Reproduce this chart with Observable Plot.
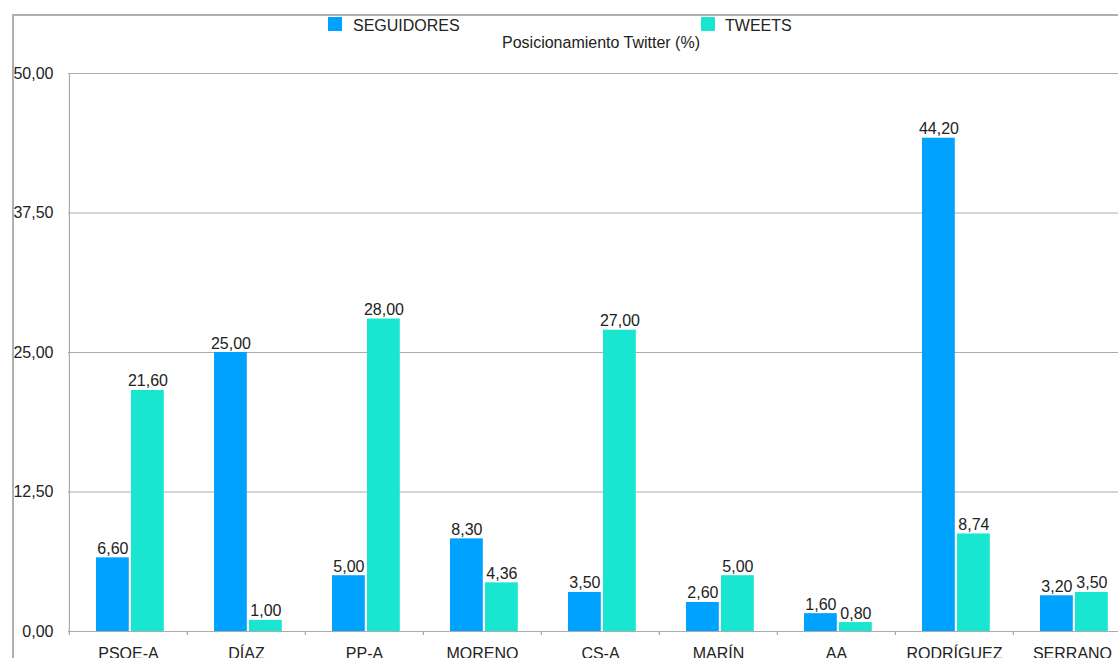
<!DOCTYPE html>
<html>
<head>
<meta charset="utf-8">
<script src="https://cdn.jsdelivr.net/npm/d3@7"></script>
<script src="https://cdn.jsdelivr.net/npm/@observablehq/plot@0.6"></script>
<style>
  html, body { margin: 0; padding: 0; background: #fff; overflow: hidden; }
  body { width: 1118px; height: 658px; font-family: "Liberation Sans", Arial, Helvetica, sans-serif; color: #222; }
  #frame { margin-left: 12px; margin-top: 14px; border-top: 2px solid #b0b0b0; border-left: 2px solid #b0b0b0; width: 1104px; height: 642px; }
  #header { position: relative; height: 40px; font-size: 16px; line-height: 16px; }
  .sw { position: absolute; top: 1px; width: 14px; height: 14px; }
  .lt { position: absolute; top: 2px; white-space: nowrap; }
  #subtitle { position: absolute; left: 387px; width: 400px; top: 19px; text-align: center; white-space: nowrap; }
</style>
</head>
<body>
<div id="frame">
  <div id="header">
    <div class="sw" id="sw1" style="left:314px"></div><div class="lt" id="lt1" style="left:339px"></div>
    <div class="sw" id="sw2" style="left:687px"></div><div class="lt" id="lt2" style="left:711px"></div>
    <div id="subtitle"></div>
  </div>
  <div id="chart"></div>
</div>
<script>
const categories = ["PSOE-A", "DÍAZ", "PP-A", "MORENO", "CS-A", "MARÍN", "AA", "RODRÍGUEZ", "SERRANO"];
const seguidores = [6.60, 25.00, 5.00, 8.30, 3.50, 2.60, 1.60, 44.20, 3.20];
const tweets = [21.60, 1.00, 28.00, 4.36, 27.00, 5.00, 0.80, 8.74, 3.50];
const seriesNames = ["SEGUIDORES", "TWEETS"];
const yTicks = [0, 12.5, 25, 37.5, 50];
const subtitleText = "Posicionamiento Twitter (%)";

const colors = ["#00a2ff", "#19e6d0"];
const gridColor = "#ababab";
const fmt = (v) => v.toFixed(2).replace(".", ",");

document.getElementById("sw1").style.background = colors[0];
document.getElementById("sw2").style.background = colors[1];
document.getElementById("lt1").textContent = seriesNames[0];
document.getElementById("lt2").textContent = seriesNames[1];
document.getElementById("subtitle").textContent = subtitleText;

const data = categories.map((c, i) => ({cat: c, seg: seguidores[i], tw: tweets[i]}));

const W = 1104, H = 602, ML = 54, MT = 17, MB = 27;
const step = 118.2;
const barW = 33;
const off1 = 27, off2 = 62;
const half = step / 2;

const chart = Plot.plot({
  width: W,
  height: H,
  marginLeft: ML,
  marginRight: 0,
  marginTop: MT,
  marginBottom: MB,
  style: {fontFamily: "'Liberation Sans', Arial, Helvetica, sans-serif", fontSize: "16px", color: "#222", background: "white", overflow: "visible"},
  x: {type: "band", domain: categories, range: [ML, ML + step * categories.length], padding: 0, tickSize: 0, tickPadding: 16, label: null},
  y: {domain: [0, 50], ticks: yTicks, tickFormat: fmt, tickSize: 0, tickPadding: 15, label: null},
  marks: [
    Plot.ruleY(yTicks, {stroke: gridColor, strokeWidth: 1.2}),
    Plot.ruleX([categories[0]], {x: d => d, dx: -half, y1: 50, y2: 0, insetBottom: -4, stroke: gridColor, strokeWidth: 1.2}),
    Plot.ruleX(categories.slice(1), {x: d => d, dx: -half, y1: 0, y2: 0, insetBottom: -4, stroke: gridColor, strokeWidth: 1.2}),
    Plot.barY(data, {x: "cat", y: "seg", fill: colors[0], insetLeft: off1, insetRight: step - off1 - barW}),
    Plot.barY(data, {x: "cat", y: "tw", fill: colors[1], insetLeft: off2, insetRight: step - off2 - barW}),
    Plot.text(data, {x: "cat", y: "seg", text: d => fmt(d.seg), dx: -half + off1 + barW / 2, dy: -4, lineAnchor: "bottom", fill: "#222", fontSize: 16}),
    Plot.text(data, {x: "cat", y: "tw", text: d => fmt(d.tw), dx: -half + off2 + barW / 2, dy: -4, lineAnchor: "bottom", fill: "#222", fontSize: 16})
  ]
});
document.getElementById("chart").appendChild(chart);
</script>
</body>
</html>
